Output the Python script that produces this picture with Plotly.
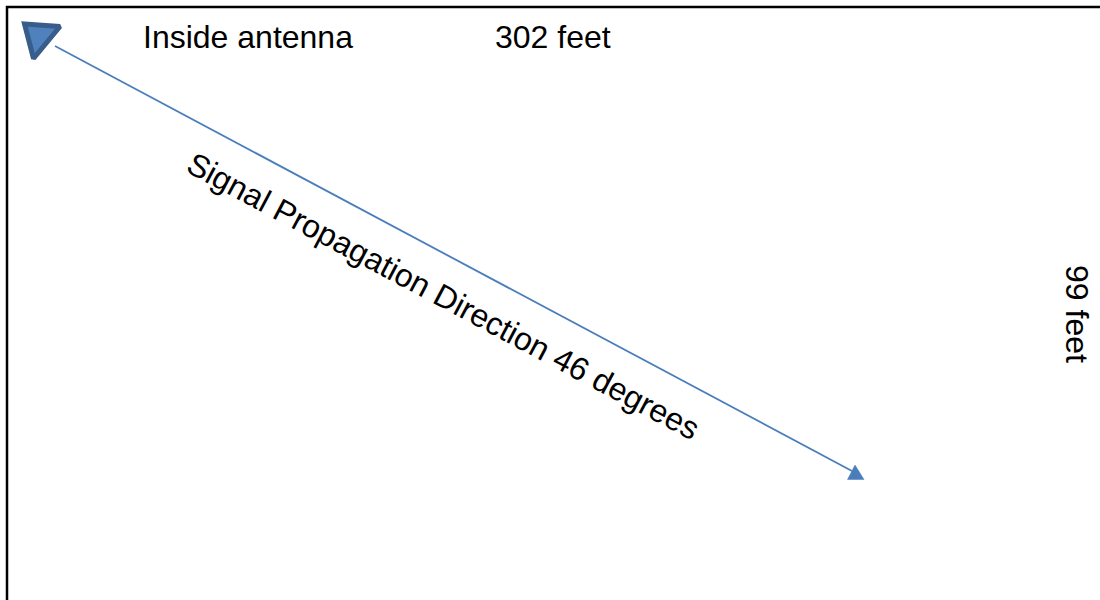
import plotly.graph_objects as go

border_x = [7, 7, 1100]
border_y = [600, 7, 7]
antenna_x = [24.5, 60, 33.5, 24.5, 60]
antenna_y = [24, 26.5, 58.5, 24, 26.5]
signal_x = [55, 852]
signal_y = [46, 471]
head_x = [855, 847.5, 864, 855]
head_y = [465, 479.5, 479.5, 465]
labels = ["Inside antenna", "302 feet", "Signal Propagation Direction 46 degrees", "99 feet"]
label_x = [247.5, 552.5, 443, 1077]
label_y = [37, 37, 296, 314]
label_angle = [0, 0, 28, 90]

BLUE = "#4a7ebb"
DARK = "#385d8a"
FILL = "#4f81bd"

fig = go.Figure()
fig.add_trace(go.Scatter(x=border_x, y=border_y, mode="lines", line=dict(color="black", width=2.5), hoverinfo="skip"))
fig.add_trace(go.Scatter(x=antenna_x, y=antenna_y, mode="lines", fill="toself", fillcolor=FILL,
                         line=dict(color=DARK, width=5), hoverinfo="skip"))
fig.add_trace(go.Scatter(x=signal_x, y=signal_y, mode="lines", line=dict(color=BLUE, width=1.8), hoverinfo="skip"))
fig.add_trace(go.Scatter(x=head_x, y=head_y, mode="lines", fill="toself", fillcolor=BLUE,
                         line=dict(color=BLUE, width=0.5), hoverinfo="skip"))

for t, x, y, a in zip(labels, label_x, label_y, label_angle):
    fig.add_annotation(x=x, y=y, text=t, textangle=a, showarrow=False, xanchor="center", yanchor="middle",
                       font=dict(family="Liberation Sans, Arial, sans-serif", size=32, color="black"))

fig.update_layout(
    width=1100, height=600, showlegend=False,
    margin=dict(l=0, r=0, t=0, b=0),
    paper_bgcolor="white", plot_bgcolor="white",
    xaxis=dict(range=[0, 1100], visible=False, fixedrange=True),
    yaxis=dict(range=[600, 0], visible=False, fixedrange=True),
)
fig.write_html("out.html", config=dict(displayModeBar=False),
               post_script="document.body.style.margin='0';document.documentElement.style.overflow='hidden';")
